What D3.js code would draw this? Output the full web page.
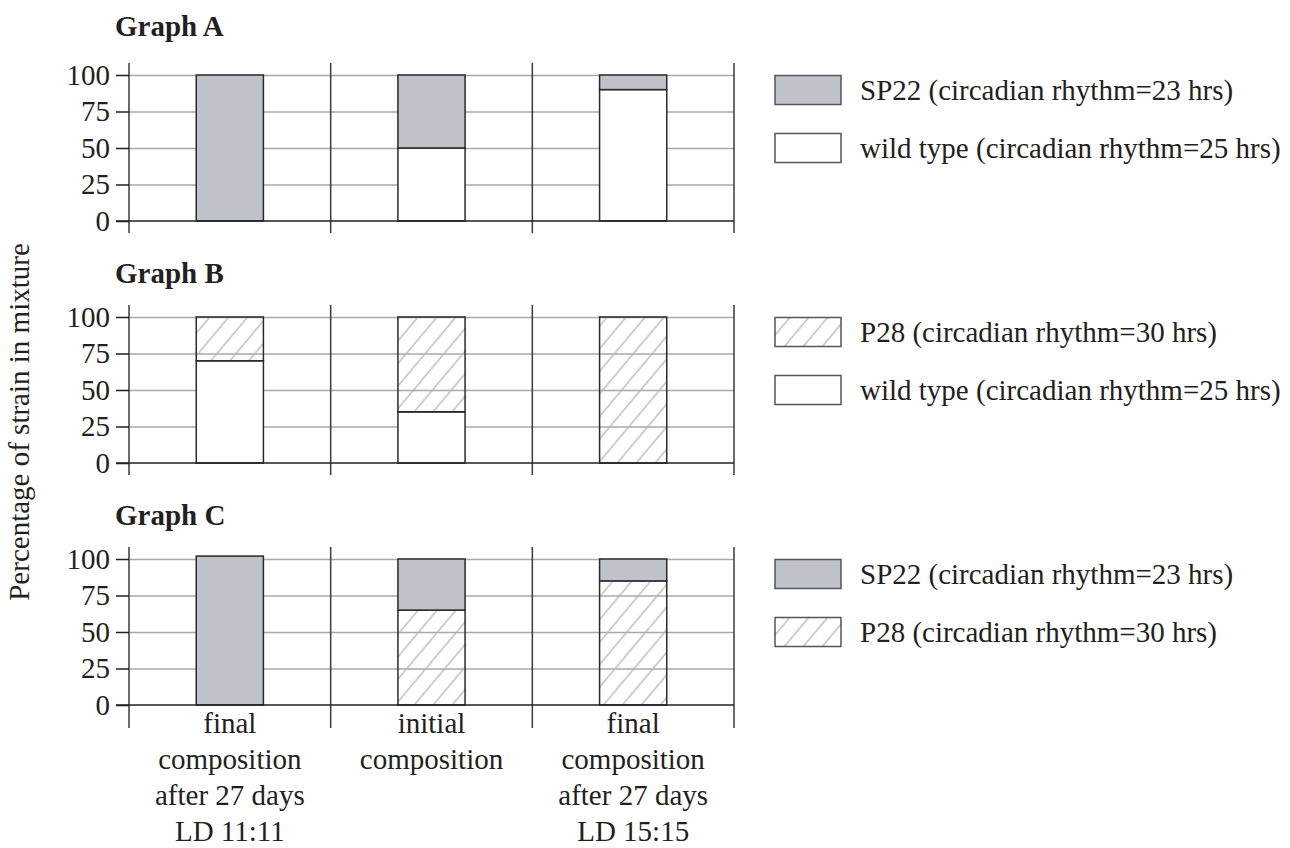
<!DOCTYPE html>
<html>
<head>
<meta charset="utf-8">
<script src="https://cdn.jsdelivr.net/npm/d3@7"></script>
<style>
  body { margin: 0; background: #fff; }
  text { font-family: "Liberation Serif", "Times New Roman", serif; fill: #231f20; }
</style>
</head>
<body>
<div id="chart"></div>
<script>
// data
const graphTitles = ["Graph A", "Graph B", "Graph C"];
const categoryLines = [
  ["final", "composition", "after 27 days", "LD 11:11"],
  ["initial", "composition"],
  ["final", "composition", "after 27 days", "LD 15:15"]
];
const yTicks = [0, 25, 50, 75, 100];

// bottom part of each stacked bar, then top part (percent)
const graphALower = [0, 50, 90];   // wild type
const graphAUpper = [100, 50, 10]; // SP22
const graphBLower = [70, 35, 0];   // wild type
const graphBUpper = [30, 65, 100]; // P28
const graphCLower = [0, 65, 85];   // P28
const graphCUpper = [102, 35, 15]; // SP22

const lowerStrain = ["wild", "wild", "p28"];
const upperStrain = ["sp22", "p28", "sp22"];
const strainKeys = ["sp22", "wild", "p28"];
const strainLabels = ["SP22 (circadian rhythm=23 hrs)", "wild type (circadian rhythm=25 hrs)", "P28 (circadian rhythm=30 hrs)"];

const lowerValues = [graphALower, graphBLower, graphCLower];
const upperValues = [graphAUpper, graphBUpper, graphCUpper];

// set up
const WIDTH = 1290, HEIGHT = 848;
const svg = d3.select("#chart").append("svg")
  .attr("width", WIDTH)
  .attr("height", HEIGHT);

const defs = svg.append("defs");
defs.append("pattern")
  .attr("id", "hatch")
  .attr("patternUnits", "userSpaceOnUse")
  .attr("width", 14.5)
  .attr("height", 14.5)
  .attr("patternTransform", "rotate(40)")
  .append("line")
  .attr("x1", 2).attr("y1", 0)
  .attr("x2", 2).attr("y2", 14.5)
  .attr("stroke", "#b4b4b4")
  .attr("stroke-width", 1.3);

const fillFor = {
  sp22: "#c0c2c9",
  wild: "#ffffff",
  p28: "url(#hatch)"
};

const plotLeft = 129, plotRight = 734;
const plotH = 146;
const plotTops = [75, 317, 559];
const titleYs = [36, 283, 525];

const x = d3.scaleBand()
  .domain([0, 1, 2])
  .range([plotLeft, plotRight])
  .padding(0);
const barW = x.bandwidth() * 0.333;

graphTitles.forEach((title, g) => {
  const top = plotTops[g];
  const y = d3.scaleLinear().domain([0, 100]).range([top + plotH, top]);
  const gr = svg.append("g");

  // title
  gr.append("text")
    .attr("x", 115)
    .attr("y", titleYs[g])
    .attr("font-size", "29px")
    .attr("font-weight", "bold")
    .text(title);

  // gridlines
  gr.append("g")
    .attr("transform", `translate(${plotLeft},0)`)
    .call(d3.axisLeft(y).tickValues(yTicks.filter(t => t > 0)).tickSize(-(plotRight - plotLeft)).tickFormat(""))
    .call(a => a.select(".domain").remove())
    .call(a => a.selectAll("line").attr("stroke", "#a9a9a9").attr("stroke-width", 1.4));

  // panel separators (first one is the y axis)
  const bottomExt = g === 2 ? 23 : 12;
  gr.selectAll(".sep")
    .data([0, 1, 2, 3])
    .enter()
    .append("line")
    .attr("x1", d => plotLeft + d * x.step())
    .attr("x2", d => plotLeft + d * x.step())
    .attr("y1", top - 12)
    .attr("y2", top + plotH + bottomExt)
    .attr("stroke", "#3a3a3a")
    .attr("stroke-width", 1.5);

  // y axis ticks + labels
  gr.append("g")
    .attr("transform", `translate(${plotLeft},0)`)
    .call(d3.axisLeft(y).tickValues(yTicks).tickSize(13).tickPadding(6))
    .call(a => a.select(".domain").remove())
    .call(a => a.selectAll("line").attr("stroke", "#231f20").attr("stroke-width", 1.5))
    .call(a => a.selectAll("text")
      .attr("font-size", "29px")
      .attr("font-family", "'Liberation Serif', 'Times New Roman', serif")
      .attr("fill", "#231f20"));

  // bars
  const lower = lowerValues[g], upper = upperValues[g];
  const bars = gr.selectAll(".bar")
    .data([0, 1, 2])
    .enter()
    .append("g");

  bars.filter(i => lower[i] > 0)
    .append("rect")
    .attr("x", i => x(i) + (x.bandwidth() - barW) / 2)
    .attr("width", barW)
    .attr("y", i => y(lower[i]))
    .attr("height", i => y(0) - y(lower[i]))
    .attr("fill", fillFor[lowerStrain[g]])
    .attr("stroke", "#2a2a2a")
    .attr("stroke-width", 1.5);

  bars.filter(i => upper[i] > 0)
    .append("rect")
    .attr("x", i => x(i) + (x.bandwidth() - barW) / 2)
    .attr("width", barW)
    .attr("y", i => y(lower[i] + upper[i]))
    .attr("height", i => y(lower[i]) - y(lower[i] + upper[i]))
    .attr("fill", fillFor[upperStrain[g]])
    .attr("stroke", "#2a2a2a")
    .attr("stroke-width", 1.5);

  // baseline at 0
  gr.append("line")
    .attr("x1", plotLeft - 13)
    .attr("x2", plotRight)
    .attr("y1", y(0))
    .attr("y2", y(0))
    .attr("stroke", "#231f20")
    .attr("stroke-width", 1.6);

  // legend
  const legendKeys = [upperStrain[g], lowerStrain[g]];
  const legend = gr.selectAll(".legend")
    .data(legendKeys)
    .enter()
    .append("g")
    .attr("transform", (d, i) => `translate(775, ${top + 15 + i * 58})`);

  legend.append("rect")
    .attr("x", 0)
    .attr("y", -14.5)
    .attr("width", 66)
    .attr("height", 29)
    .attr("fill", d => fillFor[d])
    .attr("stroke", "#555")
    .attr("stroke-width", 1.5);

  legend.append("text")
    .attr("x", 85)
    .attr("y", 0)
    .attr("dy", "0.35em")
    .attr("font-size", "29px")
    .text(d => strainLabels[strainKeys.indexOf(d)]);
});

// category labels under graph C
const catY = 733;
categoryLines.forEach((lines, i) => {
  svg.append("text")
    .attr("text-anchor", "middle")
    .attr("font-size", "29px")
    .selectAll("tspan")
    .data(lines)
    .enter()
    .append("tspan")
    .attr("x", x(i) + x.bandwidth() / 2)
    .attr("y", (d, k) => catY + k * 36)
    .text(d => d);
});

// shared y axis title
svg.append("text")
  .attr("transform", "translate(29, 422) rotate(-90)")
  .attr("text-anchor", "middle")
  .attr("font-size", "29px")
  .text("Percentage of strain in mixture");
</script>
</body>
</html>
